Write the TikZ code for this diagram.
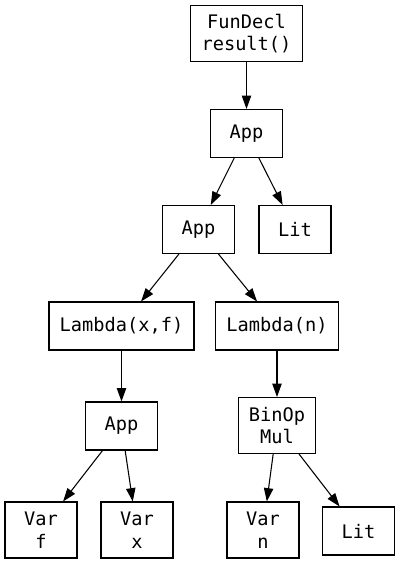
\documentclass[tikz,border=0pt]{standalone}
\usepackage{fontspec}
\setmonofont{DejaVu Sans Mono}
\usetikzlibrary{arrows.meta}

\begin{document}
\begin{tikzpicture}[x=0.75pt,y=-0.75pt,
  nd/.style={draw,line width=0.8pt,align=center,font=\ttfamily\fontsize{14}{16.8}\selectfont,inner xsep=8pt,inner ysep=4pt,minimum width=54pt,minimum height=36pt},
  nd2/.style={nd,minimum height=42pt},
  ar/.style={-{Triangle[length=10pt,width=7pt]},line width=0.8pt}]
\useasboundingbox (0,0) rectangle (400,565);
\node[nd2] (fd) at (246.5,33.5) {FunDecl\\result()};
\node[nd] (app1) at (246.5,133.5) {App};
\node[nd] (app2) at (198.5,229.5) {App};
\node[nd] (lit1) at (295,229.5) {Lit};
\node[nd] (lamxf) at (121.5,326) {Lambda(x,f)};
\node[nd] (lamn) at (277,326) {Lambda(n)};
\node[nd] (app3) at (121.5,426) {App};
\node[nd2] (binop) at (277,425.5) {BinOp\\Mul};
\node[nd2] (varf) at (41,530) {Var\\f};
\node[nd2] (varx) at (137,530) {Var\\x};
\node[nd2] (varn) at (263,530) {Var\\n};
\node[nd] (lit2) at (358.5,531) {Lit};
\foreach \x/\y in {fd/app1,app1/app2,app1/lit1,app2/lamxf,app2/lamn,lamxf/app3,lamn/binop,app3/varf,app3/varx,binop/varn,binop/lit2} \draw[ar] (\x) -- (\y);
\end{tikzpicture}
\end{document}
